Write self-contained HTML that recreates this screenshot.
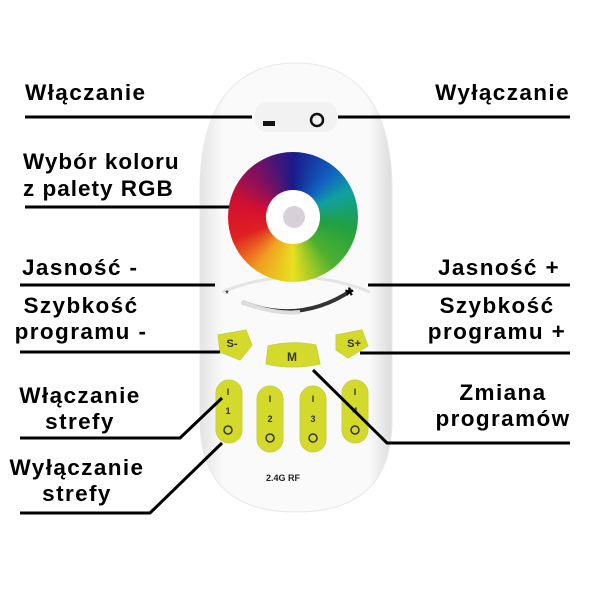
<!DOCTYPE html>
<html><head><style>
body{margin:0;width:600px;height:600px;background:#fff;position:relative;overflow:hidden;font-family:"Liberation Sans",sans-serif;}
.t{position:absolute;font-weight:bold;font-size:22.5px;color:#000;line-height:26px;letter-spacing:1.4px;white-space:nowrap}
.c{width:200px;text-align:center}
.ring{position:absolute;left:228px;top:152px;width:130px;height:130px;border-radius:50%;
background:conic-gradient(#1a1a8a 0deg,#1060c0 40deg,#10a0a0 65deg,#20a040 100deg,#50b030 140deg,#e8e020 180deg,#f0a020 215deg,#e02020 250deg,#d01030 285deg,#801060 320deg,#1a1a8a 360deg);}
.inner{position:absolute;left:266px;top:190px;width:54px;height:54px;border-radius:50%;background:#fff}
.dot{position:absolute;left:283px;top:206px;width:22px;height:22px;border-radius:50%;background:#d8d0d8}
</style></head><body>
<svg width="600" height="600" style="position:absolute;left:0;top:0">
<defs><linearGradient id="bd" x1="0" x2="1"><stop offset="0" stop-color="#e4e4e4"/><stop offset="0.12" stop-color="#fafafa"/><stop offset="0.88" stop-color="#fafafa"/><stop offset="1" stop-color="#dcdcdc"/></linearGradient></defs>
<path d="M200,190 C200,100 240,63 296,63 C352,63 392,100 392,190 L392,420 C392,490 350,512 296,512 C242,512 200,490 200,420 Z" fill="url(#bd)" stroke="#e8e8e8"/>
<rect x="255" y="102" width="82" height="30" rx="12" fill="#f2f2f2"/>
<rect x="263" y="121" width="12" height="5" fill="#111"/>
<circle cx="317" cy="120" r="6" fill="none" stroke="#111" stroke-width="2.5"/>
<path d="M222,292 Q295,262 370,292" fill="none" stroke="#e4e4e4" stroke-width="3"/>
<path d="M242,302 Q300,325 352,290" fill="none" stroke="#333" stroke-width="4"/>
<path d="M242,302 Q275,315 300,312" fill="none" stroke="#ddd" stroke-width="4"/>
<text x="225" y="297" font-size="10">*</text>
<text x="345" y="303" font-size="22" font-weight="bold">*</text>
<g fill="#d3da2c" stroke="#c8d040" stroke-width="1">
<path d="M218,335 L246,330 L252,345 L240,360 L220,352 Z"/>
<path d="M268,346 Q292,340 316,345 L320,364 Q292,370 266,364 Z"/>
<path d="M336,335 L362,330 L368,346 L348,358 L336,350 Z"/>
<rect x="216" y="380" width="26" height="63" rx="13"/>
<rect x="257" y="386" width="26" height="66" rx="13"/>
<rect x="300" y="386" width="26" height="66" rx="13"/>
<rect x="342" y="380" width="26" height="63" rx="13"/>
</g>
<g font-family="Liberation Sans" font-weight="bold" font-size="9" fill="#333" text-anchor="middle">
<text x="232" y="347" font-size="11">S-</text><text x="292" y="361" font-size="12">M</text><text x="354" y="347" font-size="11">S+</text>
<text x="228" y="395">I</text><text x="228" y="414">1</text>
<text x="270" y="402">I</text><text x="270" y="422">2</text>
<text x="313" y="402">I</text><text x="313" y="422">3</text>
<text x="355" y="395">I</text><text x="355" y="414">4</text>
</g>
<g fill="none" stroke="#333" stroke-width="1.5"><circle cx="228" cy="430" r="4"/><circle cx="270" cy="438" r="4"/><circle cx="313" cy="438" r="4"/><circle cx="355" cy="430" r="4"/></g>
<text x="266" y="481" font-family="Liberation Sans" font-weight="bold" font-size="9" fill="#222">2.4G RF</text>
<g stroke="#000" stroke-width="3" fill="none">
<line x1="25" y1="117" x2="252" y2="117"/>
<line x1="338" y1="117" x2="570" y2="117"/>
<line x1="25" y1="207" x2="243" y2="207"/>
<line x1="20" y1="285" x2="215" y2="285"/>
<line x1="368" y1="285" x2="570" y2="285"/>
<line x1="20" y1="352" x2="220" y2="352"/>
<line x1="360" y1="353" x2="570" y2="353"/>
<polyline points="313,370 387,443 570,443"/>
<polyline points="20,438 180,438 222,398"/>
<polyline points="20,513 150,513 222,443"/>
</g>
</svg>
<div class="ring"></div><div class="inner"></div><div class="dot"></div>
<div class="t" style="left:25px;top:80px">Włączanie</div>
<div class="t" style="right:30px;top:80px">Wyłączanie</div>
<div class="t" style="left:23px;top:148px;line-height:27px;letter-spacing:1px">Wybór koloru<br>z palety RGB</div>
<div class="t" style="left:22px;top:255px">Jasność -</div>
<div class="t" style="right:40px;top:255px">Jasność +</div>
<div class="t c" style="left:-19px;top:293px">Szybkość<br>programu -</div>
<div class="t c" style="left:397px;top:293px">Szybkość<br>programu +</div>
<div class="t c" style="left:-20px;top:383px">Włączanie<br>strefy</div>
<div class="t c" style="left:403px;top:380px">Zmiana<br>programów</div>
<div class="t c" style="left:-23px;top:455px">Wyłączanie<br>strefy</div>
</body></html>
